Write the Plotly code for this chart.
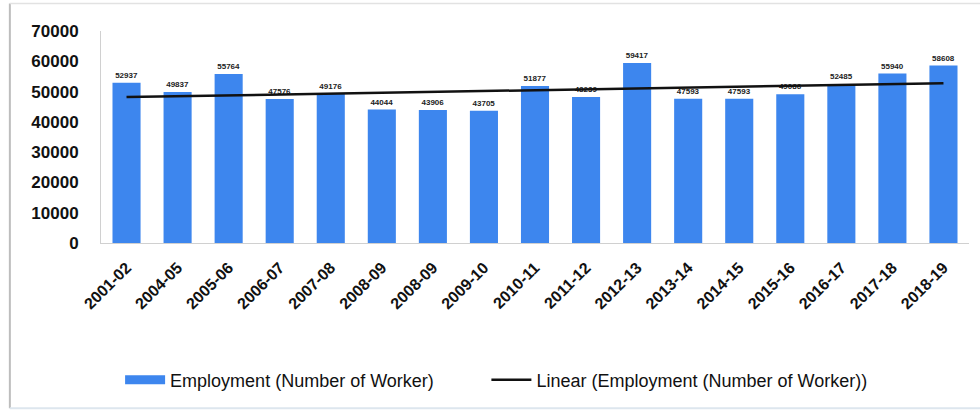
import numpy as np
import plotly.graph_objects as go

years = ["2001-02", "2004-05", "2005-06", "2006-07", "2007-08", "2008-09", "2008-09",
         "2009-10", "2010-11", "2011-12", "2012-13", "2013-14", "2014-15", "2015-16",
         "2016-17", "2017-18", "2018-19"]
employment = [52937, 49837, 55764, 47576, 49176, 44044, 43906, 43705, 51877, 48239,
              59417, 47593, 47593, 49086, 52485, 55940, 58608]
y_ticks = [0, 10000, 20000, 30000, 40000, 50000, 60000, 70000]

BAR_BLUE = "#3d86ee"
FONT = "Liberation Sans, Arial, sans-serif"

# positions as indices so repeated year labels stay separate categories
idx = list(range(len(years)))

# least-squares linear trend over the series
slope, intercept = np.polyfit(idx, employment, 1)
trend = [slope * i + intercept for i in idx]

fig = go.Figure()
fig.add_trace(go.Bar(
    x=idx, y=employment, name="Employment (Number of Worker)", showlegend=False,
    marker=dict(color=BAR_BLUE, line=dict(width=0)),
    text=[str(v) for v in employment], textposition="outside",
    textfont=dict(size=8, color="#222222", family="Liberation Sans Narrow, Arial Narrow, sans-serif",
                  weight="bold"),
    cliponaxis=False,
))
# legend key drawn as a wide blue band
fig.add_trace(go.Scatter(
    x=[None], y=[None], mode="lines", name="Employment (Number of Worker)",
    line=dict(color=BAR_BLUE, width=9), legend="legend",
))
fig.add_trace(go.Scatter(
    x=idx, y=trend, mode="lines", name="Linear (Employment (Number of Worker))",
    line=dict(color="#111111", width=2.5), legend="legend2",
))

legend_style = dict(orientation="h", y=-0.646, yanchor="middle", xanchor="left",
                    font=dict(size=18, color="#111111", family=FONT),
                    itemwidth=40, bgcolor="rgba(0,0,0,0)")

fig.update_layout(
    width=980, height=410,
    margin=dict(l=101, r=11, t=31, b=167),
    paper_bgcolor="white", plot_bgcolor="white",
    bargap=0.45,
    font=dict(family=FONT, color="#111111"),
    showlegend=True,
    legend=dict(x=0.022, **legend_style),
    legend2=dict(x=0.444, **legend_style),
    shapes=[
        dict(type="line", xref="paper", yref="paper", x0=-0.105, x1=-0.105, y0=-0.78, y1=1.13,
             line=dict(color="#bdbdbd", width=2)),
        dict(type="line", xref="paper", yref="paper", x0=-0.105, x1=1.02, y0=1.13, y1=1.13,
             line=dict(color="#e2e2e2", width=1.5)),
        dict(type="line", xref="paper", yref="paper", x0=-0.105, x1=1.02, y0=-0.78, y1=-0.78,
             line=dict(color="#dde6ee", width=2)),
    ],
)
fig.update_xaxes(
    tickmode="array", tickvals=idx, ticktext=years, tickangle=-45,
    tickfont=dict(size=16, color="#111111", weight="bold"),
    range=[-0.5, len(years) - 0.5], ticklabelstandoff=8,
    showline=True, linecolor="#d0d0d0", linewidth=1, showgrid=False, ticks="",
)
fig.update_yaxes(
    range=[0, 70000], tickvals=y_ticks, ticktext=[str(v) for v in y_ticks],
    tickfont=dict(size=17, color="#111111", weight="bold"),
    showline=True, linecolor="#d0d0d0", linewidth=1, showgrid=False, ticks="",
    ticklabelstandoff=18, zeroline=False,
)

fig.write_html("out.html")
